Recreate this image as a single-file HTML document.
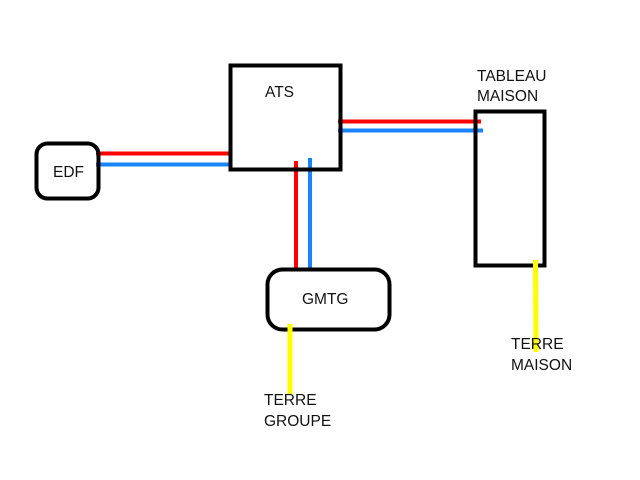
<!DOCTYPE html>
<html><head><style>body{margin:0;background:#fff}svg{display:block}text{font-family:"Liberation Sans",sans-serif;font-size:15.5px;fill:#111}</style></head>
<body>
<svg width="640" height="480" xmlns="http://www.w3.org/2000/svg">
<rect width="640" height="480" fill="#fff"/>
<line x1="96" y1="153.5" x2="232" y2="153.5" stroke="#f00" stroke-width="4"/>
<line x1="96" y1="164.5" x2="231" y2="164.5" stroke="#1a84ff" stroke-width="4"/>
<line x1="338" y1="121.5" x2="481" y2="121.5" stroke="#f00" stroke-width="4"/>
<line x1="338" y1="130.5" x2="483" y2="130.5" stroke="#1a84ff" stroke-width="4"/>
<line x1="296" y1="161" x2="296" y2="270" stroke="#f00" stroke-width="4"/>
<line x1="310" y1="158" x2="310" y2="268" stroke="#1a84ff" stroke-width="4"/>
<rect x="230.5" y="65.5" width="110" height="104" fill="none" stroke="#000" stroke-width="4"/>
<rect x="36.5" y="143.5" width="62" height="55" rx="11" fill="none" stroke="#000" stroke-width="4"/>
<rect x="475.5" y="111.5" width="69" height="154" fill="none" stroke="#000" stroke-width="4"/>
<rect x="267.5" y="269.5" width="122" height="60" rx="15" fill="none" stroke="#000" stroke-width="4"/>
<line x1="290" y1="324" x2="290" y2="395" stroke="#ff0" stroke-width="5"/>
<line x1="535.5" y1="260" x2="536" y2="352" stroke="#ff0" stroke-width="5"/>
<text x="265" y="97">ATS</text>
<text x="53" y="177">EDF</text>
<text x="302" y="304">GMTG</text>
<text x="477" y="81">TABLEAU</text>
<text x="477" y="101">MAISON</text>
<text x="511" y="349">TERRE</text>
<text x="511" y="370">MAISON</text>
<text x="264" y="405">TERRE</text>
<text x="264" y="426">GROUPE</text>
</svg>
</body></html>
